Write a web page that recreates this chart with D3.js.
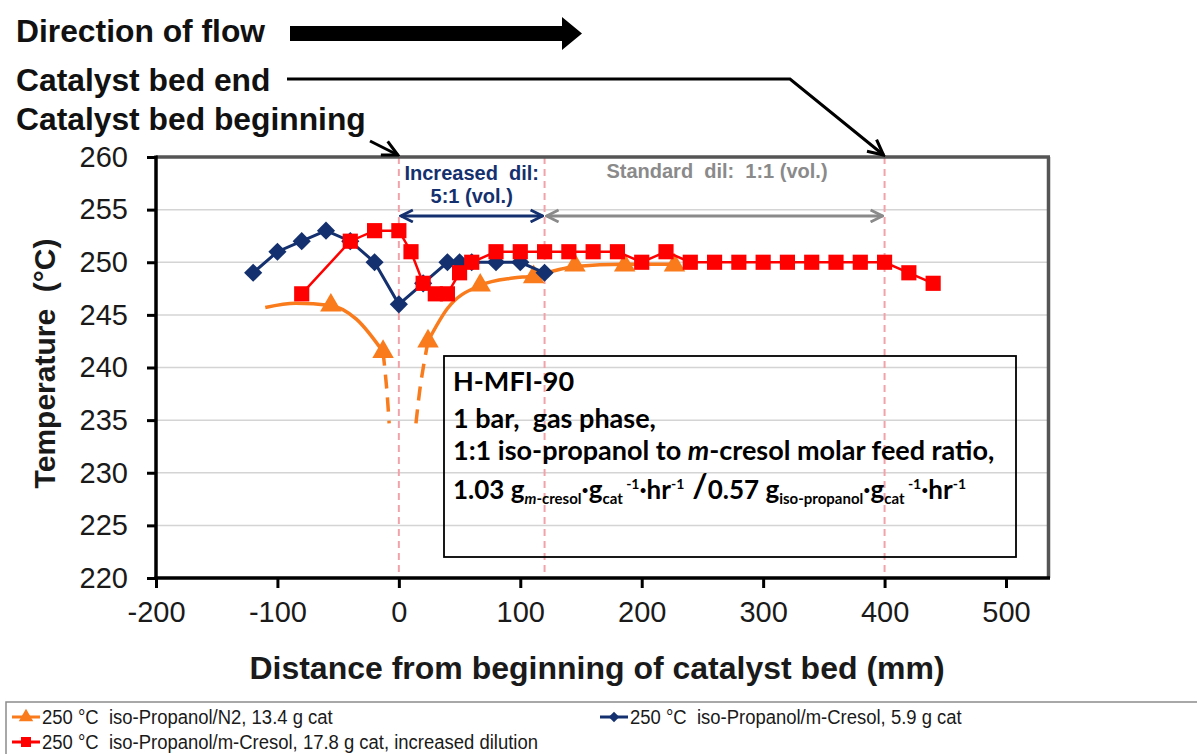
<!DOCTYPE html>
<html>
<head>
<meta charset="utf-8">
<script src="https://cdn.jsdelivr.net/npm/d3@7"></script>
<style>
  html, body { margin: 0; padding: 0; background: #fff; }
  svg { display: block; }
  text { white-space: pre; }
</style>
</head>
<body>
<svg id="chart" width="1197" height="754"></svg>
<script>
// ---- data ----
const distTicks = [-200, -100, 0, 100, 200, 300, 400, 500];
const tempTicks = [220, 225, 230, 235, 240, 245, 250, 255, 260];

// iso-Propanol/m-Cresol, 5.9 g cat
const blueDist = [-120, -100, -80, -60, -40, -20, 0, 20, 40, 50, 60, 80, 100, 120];
const blueTemp = [249, 251, 252, 253, 252, 250, 246, 248, 250, 250, 250, 250, 250, 249];

// iso-Propanol/m-Cresol, 17.8 g cat, increased dilution
const redDist = [-80, -40, -20, 0, 10, 20, 30, 40, 50, 60, 80, 100, 120, 140, 160, 180, 200, 220, 240, 260, 280, 300, 320, 340, 360, 380, 400, 420, 440];
const redTemp = [247, 252, 253, 253, 251, 248, 247, 247, 249, 250, 251, 251, 251, 251, 251, 251, 250, 251, 250, 250, 250, 250, 250, 250, 250, 250, 250, 249, 248];

// iso-Propanol/N2, 13.4 g cat (measured points)
const orangeDist = [-56, -13, 24, 67, 111, 145, 186, 227];
const orangeTemp = [245.9, 241.5, 242.5, 247.8, 248.6, 249.7, 249.7, 249.7];

// hand-fitted guide curve through the N2 profile, solid where measured, dashed where extrapolated
const orangeFitLeftDist = [-110, -85, -56, -35, -13];
const orangeFitLeftTemp = [245.7, 246.1, 245.9, 244.6, 241.5];
const orangeFitRightDist = [24, 40, 67, 94, 111, 128, 145, 186, 227];
const orangeFitRightTemp = [242.5, 245.6, 247.8, 248.5, 248.7, 249.2, 249.6, 249.8, 249.8];
const orangeDashLeftDist = [-13, -10, -8];
const orangeDashLeftTemp = [241.5, 238.0, 234.7];
const orangeDashRightDist = [24, 18, 14];
const orangeDashRightTemp = [242.5, 238.5, 234.6];

// catalyst bed boundaries / dilution zone edges (mm)
const zoneEdges = [0, 120, 400];

const legendLabels = [
  "250 °C  iso-Propanol/N2, 13.4 g cat",
  "250 °C  iso-Propanol/m-Cresol, 5.9 g cat",
  "250 °C  iso-Propanol/m-Cresol, 17.8 g cat, increased dilution"
];

// ---- styling ----
const C_ORANGE = "#F97B1C";
const C_BLUE = "#14306E";
const C_RED = "#FF0000";
const C_ZONE = "#F2A3AA";
const C_GRID = "#D4D4D4";
const C_GREY = "#8A8A8A";
const SANS = "'Liberation Sans', Arial, Helvetica, sans-serif";

const svg = d3.select("#chart");

const x = d3.scaleLinear().domain([-200, 500]).range([156, 1006]);
const y = d3.scaleLinear().domain([220, 260]).range([578, 157]);
const xFrameRight = x(535);

const zip = (a, b) => a.map((d, i) => [d, b[i]]);

// arrowhead markers
const defs = svg.append("defs");
function chevron(id, color, size, w) {
  defs.append("marker")
    .attr("id", id).attr("viewBox", "0 0 10 10")
    .attr("refX", 9).attr("refY", 5)
    .attr("markerWidth", size).attr("markerHeight", size)
    .attr("markerUnits", "userSpaceOnUse")
    .attr("orient", "auto-start-reverse")
    .append("path").attr("d", "M1,1 L9,5 L1,9")
    .attr("fill", "none").attr("stroke", color).attr("stroke-width", w)
    .attr("stroke-linejoin", "miter");
}
chevron("arrBlue", C_BLUE, 15, 1.9);
chevron("arrGrey", C_GREY, 15, 1.9);
chevron("arrBlack", "#000", 19, 1.6);

// ---- gridlines ----
svg.append("g").selectAll("line")
  .data(tempTicks.filter(t => t > 220 && t < 260))
  .join("line")
  .attr("x1", x(-200)).attr("x2", xFrameRight)
  .attr("y1", d => y(d)).attr("y2", d => y(d))
  .attr("stroke", C_GRID).attr("stroke-width", 1.5);

// ---- zone boundaries ----
svg.append("g").selectAll("line")
  .data(zoneEdges)
  .join("line")
  .attr("x1", d => x(d)).attr("x2", d => x(d))
  .attr("y1", y(260)).attr("y2", y(220))
  .attr("stroke", C_ZONE).attr("stroke-width", 2)
  .attr("stroke-dasharray", "7,5");

// ---- frame ----
svg.append("line").attr("x1", x(-200)).attr("x2", xFrameRight + 1.5)
  .attr("y1", y(260)).attr("y2", y(260))
  .attr("stroke", "#555").attr("stroke-width", 3.5);
svg.append("line").attr("x1", xFrameRight).attr("x2", xFrameRight)
  .attr("y1", y(260)).attr("y2", y(220))
  .attr("stroke", "#555").attr("stroke-width", 3.5);

// ---- axes ----
const plainNum = d => String(d);
const yAxis = d3.axisLeft(y).tickValues(tempTicks).tickFormat(plainNum).tickSize(9).tickSizeOuter(0).tickPadding(19);
const gy = svg.append("g").attr("transform", `translate(${x(-200)},0)`).call(yAxis);
gy.select(".domain").remove();
gy.selectAll(".tick line").attr("stroke", "#000").attr("stroke-width", 3);
gy.selectAll(".tick text").attr("font-family", SANS).attr("font-size", 29).attr("fill", "#1a1a1a");

const xAxis = d3.axisBottom(x).tickValues(distTicks).tickFormat(plainNum).tickSize(10).tickSizeOuter(0).tickPadding(13);
const gx = svg.append("g").attr("transform", `translate(0,${y(220)})`).call(xAxis);
gx.select(".domain").remove();
gx.selectAll(".tick line").attr("stroke", "#000").attr("stroke-width", 3);
gx.selectAll(".tick text").attr("font-family", SANS).attr("font-size", 29).attr("fill", "#1a1a1a");

svg.append("line").attr("x1", x(-200)).attr("x2", x(-200))
  .attr("y1", y(260) - 1.5).attr("y2", y(220) + 1.5)
  .attr("stroke", "#000").attr("stroke-width", 3.5);
svg.append("line").attr("x1", x(-200) - 1.5).attr("x2", xFrameRight + 1.5)
  .attr("y1", y(220)).attr("y2", y(220))
  .attr("stroke", "#000").attr("stroke-width", 3.5);

// axis titles
svg.append("text")
  .attr("transform", `translate(55,${(y(260) + y(220)) / 2 - 4}) rotate(-90)`)
  .attr("text-anchor", "middle")
  .attr("font-family", SANS).attr("font-weight", "bold").attr("font-size", 30)
  .attr("fill", "#1a1a1a")
  .text("Temperature  (°C)");

svg.append("text")
  .attr("x", 597).attr("y", 679)
  .attr("text-anchor", "middle")
  .attr("font-family", SANS).attr("font-weight", "bold").attr("font-size", 32)
  .attr("fill", "#1a1a1a")
  .text("Distance from beginning of catalyst bed (mm)");

// ---- series ----
const lineGen = d3.line().x(d => x(d[0])).y(d => y(d[1]));

// N2 guide curve
const smooth = d3.line().x(d => x(d[0])).y(d => y(d[1])).curve(d3.curveMonotoneX);
const smoothAny = d3.line().x(d => x(d[0])).y(d => y(d[1])).curve(d3.curveCatmullRom);
svg.append("path").datum(zip(orangeFitLeftDist, orangeFitLeftTemp))
  .attr("d", smooth).attr("fill", "none").attr("stroke", C_ORANGE).attr("stroke-width", 3.5);
svg.append("path").datum(zip(orangeFitRightDist, orangeFitRightTemp))
  .attr("d", smooth).attr("fill", "none").attr("stroke", C_ORANGE).attr("stroke-width", 3.5);
svg.append("path").datum(zip(orangeDashLeftDist, orangeDashLeftTemp))
  .attr("d", smoothAny).attr("fill", "none").attr("stroke", C_ORANGE).attr("stroke-width", 3.5)
  .attr("stroke-dasharray", "14,9");
svg.append("path").datum(zip(orangeDashRightDist, orangeDashRightTemp))
  .attr("d", smoothAny).attr("fill", "none").attr("stroke", C_ORANGE).attr("stroke-width", 3.5)
  .attr("stroke-dasharray", "14,9");
svg.append("g").selectAll("path")
  .data(zip(orangeDist, orangeTemp))
  .join("path")
  .attr("transform", d => `translate(${x(d[0])},${y(d[1])})`)
  .attr("d", d3.symbol(d3.symbolTriangle, 200))
  .attr("fill", C_ORANGE);

// blue series
svg.append("path").datum(zip(blueDist, blueTemp))
  .attr("d", lineGen).attr("fill", "none").attr("stroke", C_BLUE).attr("stroke-width", 3);
svg.append("g").selectAll("path")
  .data(zip(blueDist, blueTemp))
  .join("path")
  .attr("transform", d => `translate(${x(d[0])},${y(d[1])}) rotate(45)`)
  .attr("d", d3.symbol(d3.symbolSquare, 165))
  .attr("fill", C_BLUE);

// red series
svg.append("path").datum(zip(redDist, redTemp))
  .attr("d", lineGen).attr("fill", "none").attr("stroke", C_RED).attr("stroke-width", 2.5);
svg.append("g").selectAll("path")
  .data(zip(redDist, redTemp))
  .join("path")
  .attr("transform", d => `translate(${x(d[0])},${y(d[1])})`)
  .attr("d", d3.symbol(d3.symbolSquare, 230))
  .attr("fill", C_RED);

// ---- dilution zone annotations ----
const arrowY = y(254.4);
svg.append("line")
  .attr("x1", x(0) + 2).attr("x2", x(120) - 2).attr("y1", arrowY).attr("y2", arrowY)
  .attr("stroke", C_BLUE).attr("stroke-width", 3)
  .attr("marker-start", "url(#arrBlue)").attr("marker-end", "url(#arrBlue)");
svg.append("line")
  .attr("x1", x(120) + 2).attr("x2", x(400) - 2).attr("y1", arrowY).attr("y2", arrowY)
  .attr("stroke", C_GREY).attr("stroke-width", 3)
  .attr("marker-start", "url(#arrGrey)").attr("marker-end", "url(#arrGrey)");

const zoneText = svg.append("g").attr("font-family", SANS).attr("font-weight", "bold")
  .attr("font-size", 20).attr("text-anchor", "middle");
zoneText.append("text").attr("x", x(60)).attr("y", 180).attr("fill", C_BLUE).text("Increased  dil:");
zoneText.append("text").attr("x", x(60)).attr("y", 203).attr("fill", C_BLUE).text("5:1 (vol.)");
zoneText.append("text").attr("x", x(262)).attr("y", 178).attr("fill", C_GREY).text("Standard  dil:  1:1 (vol.)");

// ---- conditions box ----
const box = svg.append("g");
box.append("rect").attr("x", 444).attr("y", 356).attr("width", 572).attr("height", 201)
  .attr("fill", "none").attr("stroke", "#000").attr("stroke-width", 1.8);

const BOX_FONT = "Lato, 'Open Sans', sans-serif";
const BOX_SIZE = 27;
const boxLines = ["H-MFI-90", "1 bar,  gas phase,"];
box.selectAll("text.plain").data(boxLines).join("text")
  .attr("class", "plain")
  .attr("x", 453).attr("y", (d, i) => 391 + i * 37)
  .attr("font-family", BOX_FONT).attr("font-weight", "bold").attr("font-size", BOX_SIZE)
  .attr("fill", "#000").text(d => d);

const l3 = box.append("text").attr("x", 453).attr("y", 460)
  .attr("font-family", BOX_FONT).attr("font-weight", "bold").attr("font-size", BOX_SIZE).attr("fill", "#000");
l3.append("tspan").text("1:1 iso-propanol to ");
l3.append("tspan").attr("font-style", "italic").text("m");
l3.append("tspan").text("-cresol molar feed ratio,");

// rate line with sub/superscripts: shift is the baseline offset (px, positive = down)
const rateParts = [
  { t: "1.03 g", size: 26, shift: 0 },
  { t: "m", size: 15, shift: 5, italic: true },
  { t: "-cresol", size: 15, shift: 5 },
  { t: "·g", size: 26, shift: 0 },
  { t: "cat", size: 15, shift: 5 },
  { t: " -1", size: 14, shift: -10 },
  { t: "·hr", size: 26, shift: 0 },
  { t: "-1", size: 14, shift: -10 },
  { t: " /", size: 33, shift: -2 },
  { t: "0.57 g", size: 26, shift: 0 },
  { t: "iso-propanol", size: 15, shift: 5 },
  { t: "·g", size: 26, shift: 0 },
  { t: "cat", size: 15, shift: 5 },
  { t: " -1", size: 14, shift: -10 },
  { t: "·hr", size: 26, shift: 0 },
  { t: "-1", size: 14, shift: -10 }
];
const l4 = box.append("text").attr("x", 453).attr("y", 499)
  .attr("font-family", BOX_FONT).attr("font-weight", "bold").attr("fill", "#000");
let prevShift = 0;
rateParts.forEach(p => {
  l4.append("tspan")
    .attr("dy", p.shift - prevShift)
    .attr("font-size", p.size)
    .attr("font-style", p.italic ? "italic" : null)
    .text(p.t);
  prevShift = p.shift;
});

// ---- header annotations ----
const head = svg.append("g").attr("font-family", SANS).attr("font-weight", "bold")
  .attr("font-size", 31.8).attr("fill", "#111");
head.append("text").attr("x", 16).attr("y", 42).text("Direction of flow");
head.append("text").attr("x", 16).attr("y", 91).text("Catalyst bed end");
head.append("text").attr("x", 16).attr("y", 130).text("Catalyst bed beginning");

// flow arrow
svg.append("path")
  .attr("d", "M290,26 L562,26 L562,17 L582,33.5 L562,50 L562,41 L290,41 Z")
  .attr("fill", "#000");

// leader to bed end
svg.append("path")
  .attr("d", `M287,79 L790,79 L${x(400) - 1},${y(260) - 2}`)
  .attr("fill", "none").attr("stroke", "#000").attr("stroke-width", 3)
  .attr("marker-end", "url(#arrBlack)");
// leader to bed beginning
svg.append("path")
  .attr("d", `M370,141 L${x(0) - 1},${y(260) - 2}`)
  .attr("fill", "none").attr("stroke", "#000").attr("stroke-width", 3)
  .attr("marker-end", "url(#arrBlack)");

// ---- legend ----
const leg = svg.append("g").attr("font-family", SANS).attr("font-size", 21).attr("fill", "#1a1a1a");
leg.append("rect").attr("x", 6).attr("y", 702).attr("width", 1210).attr("height", 80)
  .attr("fill", "#fff").attr("stroke", "#8c8c8c").attr("stroke-width", 1.5);

const legItems = [
  { x0: 12, yy: 717, color: C_ORANGE, sym: d3.symbolTriangle, size: 90, rot: 0, label: legendLabels[0] },
  { x0: 600, yy: 717, color: C_BLUE, sym: d3.symbolSquare, size: 55, rot: 45, label: legendLabels[1] },
  { x0: 12, yy: 742, color: C_RED, sym: d3.symbolSquare, size: 100, rot: 0, label: legendLabels[2] }
];
const li = leg.selectAll("g.item").data(legItems).join("g").attr("class", "item");
li.append("line").attr("x1", d => d.x0).attr("x2", d => d.x0 + 28)
  .attr("y1", d => d.yy).attr("y2", d => d.yy)
  .attr("stroke", d => d.color).attr("stroke-width", 3);
li.append("path")
  .attr("transform", d => `translate(${d.x0 + 14},${d.yy}) rotate(${d.rot})`)
  .attr("d", d => d3.symbol(d.sym, d.size)())
  .attr("fill", d => d.color);
// condensed legend lettering
li.append("text")
  .attr("transform", d => `translate(${d.x0 + 30},${d.yy + 7}) scale(0.88,1)`)
  .text(d => d.label);
</script>
</body>
</html>
